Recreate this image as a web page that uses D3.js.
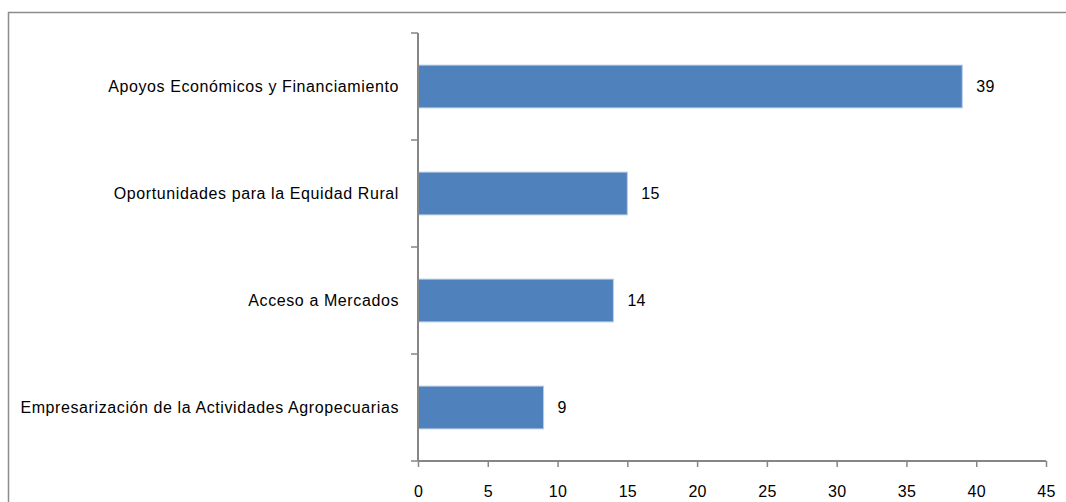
<!DOCTYPE html>
<html>
<head>
<meta charset="utf-8">
<script src="https://cdn.jsdelivr.net/npm/d3@7"></script>
<style>
  body { margin: 0; background: #fff; }
  text { font-family: "Liberation Sans", Arial, sans-serif; fill: #000; }
</style>
</head>
<body>
<div id="holder"></div>
<script>
const w = 1066;
const h = 502;

// DATA
const categories = [
    "Apoyos Económicos y Financiamiento",
    "Oportunidades para la Equidad Rural",
    "Acceso a Mercados",
    "Empresarización de la Actividades Agropecuarias"
];
const values = [39, 15, 14, 9];
const xTicks = [0, 5, 10, 15, 20, 25, 30, 35, 40, 45];

// plot area
const plotLeft = 418, plotRight = 1046, plotTop = 33, plotBottom = 461;

const svg = d3.select("#holder")
    .append("svg")
    .attr("width", w)
    .attr("height", h);

// chart border
svg.append("rect")
    .attr("x", 8.5)
    .attr("y", 12.5)
    .attr("width", 1070)
    .attr("height", 520)
    .attr("fill", "none")
    .attr("stroke", "#8c8c8c")
    .attr("stroke-width", 1.5);

const x = d3.scaleLinear().domain([0, 45]).range([plotLeft, plotRight]);
const y = d3.scaleBand().domain(categories).range([plotTop, plotBottom])
    .paddingInner(0.6).paddingOuter(0.3);

// bars
svg.append("g")
    .selectAll("rect")
    .data(values)
    .enter()
    .append("rect")
    .attr("x", x(0))
    .attr("y", (d, i) => y(categories[i]))
    .attr("width", d => x(d) - x(0))
    .attr("height", y.bandwidth())
    .attr("fill", "#4f81bd")
    .attr("stroke", "#b9cde5")
    .attr("stroke-width", 1);

// value labels
svg.append("g")
    .selectAll("text")
    .data(values)
    .enter()
    .append("text")
    .attr("x", d => x(d) + 14)
    .attr("y", (d, i) => y(categories[i]) + y.bandwidth() / 2)
    .attr("dy", "0.36em")
    .style("font-size", "16px")
    .style("letter-spacing", "0.3px")
    .text(d => d);

// x axis
const xAxis = svg.append("g")
    .attr("transform", `translate(0,${plotBottom})`)
    .call(d3.axisBottom(x).tickValues(xTicks).tickSize(6).tickPadding(19));
xAxis.select(".domain").attr("stroke", "#868686").attr("stroke-width", 2)
    .attr("d", `M${plotLeft},0H${plotRight}`);
xAxis.selectAll(".tick line").attr("stroke", "#868686").attr("stroke-width", 1.5);
xAxis.selectAll(".tick text")
    .style("font-size", "16px")
    .style("letter-spacing", "0.3px")
    .attr("fill", "#000");

// y axis: category boundaries as ticks
const yBounds = d3.range(categories.length + 1)
    .map(i => plotTop + i * (plotBottom - plotTop) / categories.length);
const yAxis = svg.append("g");
yAxis.append("line")
    .attr("x1", plotLeft).attr("x2", plotLeft)
    .attr("y1", plotTop).attr("y2", plotBottom)
    .attr("stroke", "#868686").attr("stroke-width", 2);
yAxis.selectAll("line.tk")
    .data(yBounds)
    .enter()
    .append("line")
    .attr("class", "tk")
    .attr("x1", plotLeft - 7).attr("x2", plotLeft)
    .attr("y1", d => d).attr("y2", d => d)
    .attr("stroke", "#868686").attr("stroke-width", 1.5);

// category labels
yAxis.selectAll("text")
    .data(categories)
    .enter()
    .append("text")
    .attr("x", 399)
    .attr("y", d => y(d) + y.bandwidth() / 2)
    .attr("dy", "0.36em")
    .attr("text-anchor", "end")
    .style("font-size", "16px")
    .style("letter-spacing", "0.6px")
    .text(d => d);
</script>
</body>
</html>
